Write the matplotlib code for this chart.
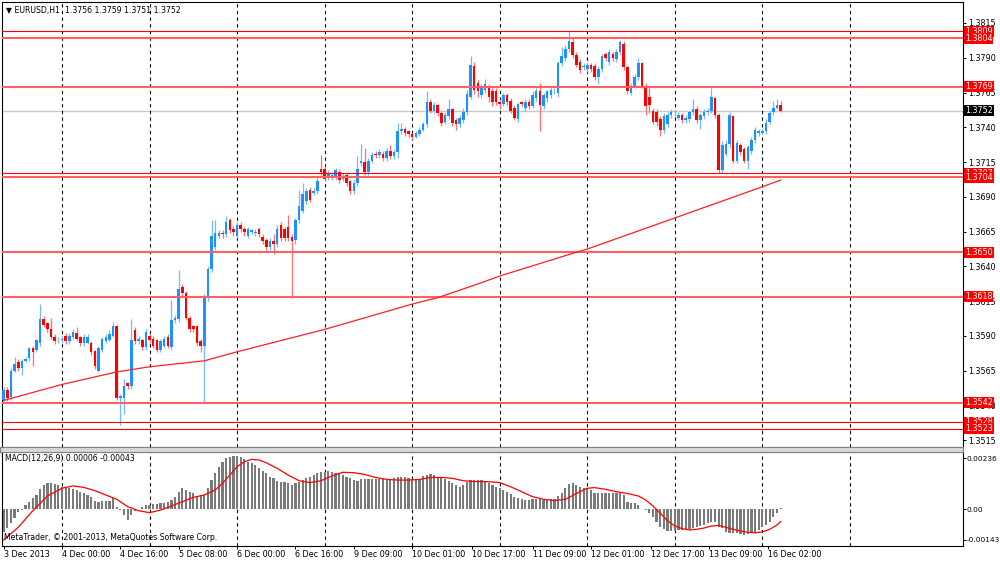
import matplotlib
matplotlib.use('Agg')
import matplotlib.pyplot as plt
import matplotlib.transforms as mtransforms
from matplotlib.patches import Rectangle
import numpy as np

# EURUSD H1 candles, values in pips above 1.3500
opens = [44, 51, 46, 65, 71, 67, 72, 74, 81, 80, 85, 102, 99, 95, 89, 87, 87, 90, 86, 89,
         92, 89, 85, 85, 85, 79, 65, 80, 86, 87, 90, 97, 45, 45, 56, 54, 94, 86, 87, 82,
         90, 88, 87, 80, 83, 89, 82, 101, 102, 125, 121, 103, 97, 97, 86,
         83, 118, 138, 154, 162, 164, 163, 173, 167, 162, 170, 167, 162, 165, 164, 167, 161,
         159, 154, 158, 156, 170, 167, 168, 161, 159, 173, 180, 187, 195, 193, 194, 210, 210,
         204, 204, 204, 208, 203, 206, 201, 194, 200, 214, 215, 208, 216, 221, 220, 221, 218,
         223, 219,
         222, 237, 239, 237, 235, 233, 235, 238, 242, 258, 252, 256, 250, 244, 248, 253, 245,
         242, 245, 251, 262, 284, 272, 263, 267, 269, 266, 266, 258, 257, 263, 259, 254, 246,
         258, 254, 258, 255, 261, 266, 255, 261, 263, 266, 265, 286, 290, 296, 301, 292, 287,
         283, 282, 285,
         284, 276, 282, 293, 287, 293, 289, 294, 300, 283, 265, 270, 276, 286, 270, 262, 252,
         251, 246, 238, 242, 249, 250, 247, 249, 245, 246, 251, 253, 245, 248, 251, 252, 261,
         249, 209, 221, 228, 248, 216, 227, 224, 216, 223, 231, 236, 236, 237, 244, 251, 254,
         256]
highs = [53, 53, 67, 75, 73, 73, 75, 82, 83, 88, 113, 104, 100, 103, 91, 89, 90, 92, 92, 95,
         96, 90, 91, 91, 86, 80, 83, 89, 91, 94, 100, 98, 48, 59, 57, 102, 96, 90, 88, 95,
         92, 90, 88, 88, 90, 91, 116, 105, 137, 127, 122, 104, 98, 98, 88,
         120, 140, 173, 173, 166, 166, 176, 175, 169, 172, 172, 168, 168, 167, 167, 168, 163,
         160, 160, 163, 170, 172, 168, 177, 163, 175, 195, 200, 196, 197, 196, 204, 220, 212,
         209, 208, 211, 210, 207, 207, 202, 202, 219, 228, 225, 218, 222, 223, 224, 223, 225,
         227, 224,
         243, 243, 240, 238, 236, 237, 240, 244, 266, 260, 258, 257, 252, 251, 260, 254, 247,
         249, 254, 267, 291, 287, 274, 271, 275, 271, 268, 268, 260, 265, 265, 261, 256, 258,
         259, 260, 260, 266, 268, 272, 265, 267, 269, 268, 288, 298, 299, 309, 304, 294, 289,
         286, 287, 286,
         286, 284, 293, 294, 296, 294, 296, 303, 302, 284, 272, 278, 290, 287, 272, 268, 254,
         253, 248, 250, 251, 253, 253, 251, 250, 249, 252, 260, 255, 250, 253, 254, 268, 262,
         250, 230, 231, 251, 249, 231, 229, 226, 227, 233, 240, 239, 239, 246, 252, 259, 260,
         259]
lows = [42, 43, 44, 64, 65, 62, 71, 72, 68, 78, 83, 96, 93, 88, 84, 85, 85, 84, 84, 88,
        86, 83, 83, 84, 76, 66, 64, 78, 85, 86, 89, 44, 26, 34, 52, 52, 84, 84, 80, 80,
        85, 81, 78, 78, 81, 81, 80, 99, 100, 118, 101, 93, 93, 83, 78,
        42, 115, 136, 152, 160, 160, 161, 164, 162, 160, 165, 162, 160, 163, 162, 161, 156,
        152, 152, 149, 154, 158, 158, 158, 117, 156, 171, 178, 185, 186, 191, 192, 206, 201,
        202, 202, 202, 200, 201, 198, 192, 192, 198, 212, 206, 206, 214, 218, 218, 216, 216,
        217, 217,
        218, 235, 234, 233, 231, 232, 234, 237, 240, 250, 250, 248, 241, 242, 246, 241, 238,
        240, 243, 249, 260, 264, 262, 261, 265, 258, 255, 256, 253, 255, 256, 250, 245, 244,
        255, 252, 253, 254, 259, 237, 253, 258, 261, 264, 262, 284, 288, 294, 290, 283, 279,
        281, 280, 280,
        274, 271, 280, 288, 285, 288, 287, 292, 281, 264, 263, 268, 274, 268, 249, 250, 242,
        241, 234, 236, 240, 247, 248, 245, 243, 243, 244, 249, 243, 239, 246, 249, 250, 247,
        207, 207, 219, 225, 214, 214, 220, 214, 210, 221, 229, 234, 235, 235, 242, 249, 253,
        251]
closes = [51, 45, 65, 70, 67, 72, 73, 81, 78, 87, 102, 98, 95, 89, 86, 87, 88, 86, 90, 93,
          88, 85, 89, 89, 78, 68, 81, 88, 89, 91, 97, 45, 47, 54, 54, 87, 86, 88, 82, 93,
          87, 83, 80, 86, 88, 83, 101, 103, 124, 121, 103, 95, 95, 85, 83,
          118, 138, 162, 164, 164, 163, 172, 166, 165, 170, 167, 165, 167, 166, 165, 163, 158,
          154, 158, 156, 167, 160, 160, 160, 158, 173, 183, 192, 194, 188, 194, 201, 208, 203,
          207, 206, 209, 202, 205, 200, 194, 200, 210, 216, 208, 216, 220, 220, 222, 218, 223,
          219, 222,
          237, 239, 236, 235, 233, 236, 238, 242, 258, 252, 256, 250, 243, 249, 253, 243, 242,
          247, 251, 264, 285, 267, 266, 269, 271, 262, 258, 258, 257, 263, 258, 252, 247, 257,
          257, 258, 255, 263, 266, 256, 263, 266, 267, 266, 286, 291, 296, 302, 292, 285, 281,
          284, 285, 282,
          276, 282, 291, 290, 294, 290, 294, 301, 283, 266, 270, 276, 286, 270, 255, 256, 244,
          244, 238, 248, 249, 251, 250, 249, 245, 247, 251, 253, 245, 249, 251, 252, 262, 249,
          209, 227, 228, 249, 216, 229, 222, 216, 226, 231, 238, 237, 237, 243, 250, 254, 256,
          252]

# moving average read at a few bars (pips above 1.3500)
ma_bars = [0, 16, 31, 40, 55, 64, 88, 112, 119, 131, 136, 156, 160, 185, 208, 213]
ma_pips = [43.5, 55, 64, 67.7, 72, 78.5, 94.6, 112.8, 117.4, 128.2, 133, 149.3, 152.4,
           175.7, 197.2, 202]

# MACD histogram, units of 0.00001
macd_hist = [-105, -90, -66, -43, -12, -5, 19, 34, 49, 65,
             91, 111, 119, 119, 114, 111, 103, 96, 96, 91,
             88, 80, 72, 65, 57, 39, 34, 37, 37, 37,
             49, 11, -5, -28, -51, -28, -8, 2, 11, 19,
             19, 22, 22, 26, 26, 34, 42, 57, 80, 96,
             88, 80, 72, 57, 65, 65, 96, 134, 165, 196,
             219, 235, 242, 245, 245, 239, 230, 219, 214, 204,
             188, 177, 165, 150, 142, 131, 127, 127, 119, 111,
             119, 127, 134, 145, 150, 157, 165, 170, 173, 177,
             173, 168, 165, 157, 150, 142, 134, 131, 137, 137,
             137, 137, 137, 137, 137, 137, 137, 142, 146, 146,
             146, 142, 137, 137, 137, 153, 157, 160, 157, 150,
             142, 137, 131, 122, 111, 103, 111, 127, 134, 134,
             134, 134, 127, 122, 111, 103, 96, 88, 80, 68,
             57, 49, 45, 42, 42, 45, 45, 45, 42, 42,
             45, 45, 60, 72, 96, 114, 119, 111, 103, 96,
             96, 88, 76, 72, 76, 76, 76, 76, 76, 72,
             65, 34, 26, 26, 19, -2, -5, -20, -35, -58,
             -85, -94, -100, -100, -100, -97, -97, -94, -94, -89,
             -85, -79, -74, -66, -58, -58, -82, -89, -105, -110,
             -113, -113, -116, -120, -116, -110, -105, -97, -85, -74,
             -58, -35, -17, 6]

# MACD signal line read at a few bars, units of 0.00001
sig_bars = [0, 4, 8, 12, 16, 19, 22, 25, 28, 31, 34, 37, 40, 43, 46, 49, 52, 55, 58, 60,
            62, 64, 66, 68, 70, 72, 75, 78, 81, 84, 87, 90, 93, 96, 99, 102, 105, 108, 111, 114,
            117, 120, 123, 126, 129, 132, 135, 136, 139, 142, 145, 148, 151, 154, 157, 160, 162,
            165, 168, 171, 174, 176, 178, 180, 182, 184, 186, 188, 190, 192, 194, 196, 198, 200,
            202, 204, 206, 208, 210, 212, 213]
sig_vals = [-143, -85, -8, 60, 96, 107, 100, 85, 65, 45, 11, -8, -17, -5, 14, 34, 54, 65, 88, 119,
            157, 196, 219, 230, 227, 214, 188, 157, 131, 122, 131, 153, 170, 168, 160, 146, 137,
            134, 134, 137, 146, 146, 142, 131, 127, 127, 124, 122, 103, 80, 57, 45, 39, 45, 72,
            96, 99, 91, 80, 72, 60, 42, 14, -20, -54, -79, -91, -97, -94, -88, -79, -76, -85,
            -94, -102, -108, -110, -106, -94, -74, -58]

# horizontal levels and their style (True = thin bright line)
levels = [1.3809, 1.3804, 1.3769, 1.3707, 1.3704, 1.3650, 1.3618, 1.3542, 1.3528, 1.3523]
level_thin = [True, False, False, True, False, False, False, False, True, True]
bid = 1.3752

price_ticks = [1.3815, 1.3790, 1.3765, 1.3740, 1.3715, 1.3690, 1.3665, 1.3640, 1.3615,
               1.3590, 1.3565, 1.3540, 1.3515]
time_bars = [0, 16, 32, 48, 64, 80, 96, 112, 128.5, 145, 161, 177.5, 193.5, 209.5]
time_labels = ['3 Dec 2013', '4 Dec 00:00', '4 Dec 16:00', '5 Dec 08:00', '6 Dec 00:00',
               '6 Dec 16:00', '9 Dec 09:00', '10 Dec 01:00', '10 Dec 17:00', '11 Dec 09:00',
               '12 Dec 01:00', '12 Dec 17:00', '13 Dec 09:00', '16 Dec 02:00']
grid_bars = [16, 40, 64, 88, 112, 136, 160, 184, 208, 232]

plt.rcParams['font.family'] = ['DejaVu Sans']
FS = 5.8

o = 1.35 + np.array(opens) / 1e4
h = 1.35 + np.array(highs) / 1e4
l = 1.35 + np.array(lows) / 1e4
c = 1.35 + np.array(closes) / 1e4
x = np.arange(len(c))

W, H = 1000, 562
fig = plt.figure(figsize=(10, 5.62), dpi=100)
ax = fig.add_axes([2 / W, 1 - 447 / H, 961 / W, 445 / H])
ax2 = fig.add_axes([2 / W, 1 - 546 / H, 961 / W, 94 / H])
xlim = (-0.45, 263)

# --- price panel ---
up = c >= o
dn = ~up
ax.vlines(x[up], l[up], h[up], color='#74b8ff', lw=0.9, zorder=2)
ax.vlines(x[dn], l[dn], h[dn], color='#ff7070', lw=0.9, zorder=2)
body = np.maximum(np.abs(c - o), 0.00003)
ax.bar(x[up], body[up], bottom=np.minimum(o, c)[up], width=0.7, color='#1e90ff', zorder=3)
ax.bar(x[dn], body[dn], bottom=np.minimum(o, c)[dn], width=0.7, color='#ff0000', zorder=3)

ax.axhline(bid, color='#c8c8c8', lw=1, zorder=1)
for lev, thin in zip(levels, level_thin):
    if thin:
        ax.axhline(lev, color='#ff0000', lw=0.8, zorder=4)
    else:
        ax.axhline(lev, color='#ff6060', lw=1.5, zorder=4)

ax.plot(ma_bars, 1.35 + np.array(ma_pips) / 1e4, color='#ff2020', lw=0.9, zorder=4)

for gb in grid_bars:
    ax.axvline(gb, color='black', lw=0.8, ls=(0, (3, 3)), zorder=1)
    ax2.axvline(gb, color='black', lw=0.8, ls=(0, (3, 3)), zorder=1)

ax.set_xlim(*xlim)
ax.set_ylim(1.3510, 1.38301)
ax.yaxis.tick_right()
ax.set_yticks(price_ticks)
ax.set_yticklabels(['%.4f' % t for t in price_ticks])
ax.tick_params(axis='y', length=2.2, width=0.7, pad=1.2, labelsize=FS, colors='black')
ax.tick_params(axis='x', bottom=False, labelbottom=False)
for s in ['left', 'top', 'right']:
    ax.spines[s].set_color('black')
    ax.spines[s].set_linewidth(0.8)
ax.spines['bottom'].set_color('#808080')

trans = mtransforms.blended_transform_factory(ax.transAxes, ax.transData)
for lev in levels:
    ax.text(1.002, lev, '%.4f' % lev, transform=trans, color='white', fontsize=FS,
            va='center', ha='left', clip_on=False, zorder=10,
            bbox=dict(facecolor='#ff0000', edgecolor='none', pad=0.7))
ax.text(1.002, bid, '%.4f' % bid, transform=trans, color='white', fontsize=FS,
        va='center', ha='left', clip_on=False, zorder=10,
        bbox=dict(facecolor='black', edgecolor='none', pad=0.7))

fig.text(6 / W, 1 - 10 / H, '\u25bc EURUSD,H1  1.3756 1.3759 1.3751 1.3752',
         fontsize=5.6, va='center', ha='left')

# separator between panels
fig.add_artist(Rectangle((0, 1 - 452 / H), 963 / W, 5 / H, transform=fig.transFigure,
                         facecolor='#d8d8d8', edgecolor='#808080', lw=0.8))

# --- MACD panel ---
ax2.bar(x, np.array(macd_hist) / 1e5, width=0.6, color='#7a7a7a', zorder=2)
ax2.plot(sig_bars, np.array(sig_vals) / 1e5, color='#ff0000', lw=0.9, zorder=3)
ax2.set_xlim(*xlim)
ax2.set_ylim(-0.001713, 0.002639)
ax2.yaxis.tick_right()
ax2.set_yticks([0.00236, 0.0, -0.00143])
ax2.set_yticklabels(['0.00236', '0.00', '-0.00143'])
ax2.tick_params(axis='y', length=2.0, width=0.7, pad=0.6, labelsize=5.3)
ax2.set_xticks(time_bars)
ax2.set_xticklabels(time_labels)
ax2.tick_params(axis='x', length=2.2, width=0.7, pad=1.0, labelsize=FS)
for lab in ax2.get_xticklabels():
    lab.set_ha('left')
for s in ['left', 'bottom', 'right']:
    ax2.spines[s].set_color('black')
    ax2.spines[s].set_linewidth(0.8)
ax2.spines['top'].set_color('#808080')

fig.text(5 / W, 1 - 459 / H, 'MACD(12,26,9) 0.00006 -0.00043', fontsize=5.6, va='center', ha='left')
fig.text(4 / W, 1 - 538 / H, 'MetaTrader, \u00a9 2001-2013, MetaQuotes Software Corp.',
         fontsize=5.6, va='center', ha='left')

fig.savefig('out.png', dpi=100, facecolor='white')
